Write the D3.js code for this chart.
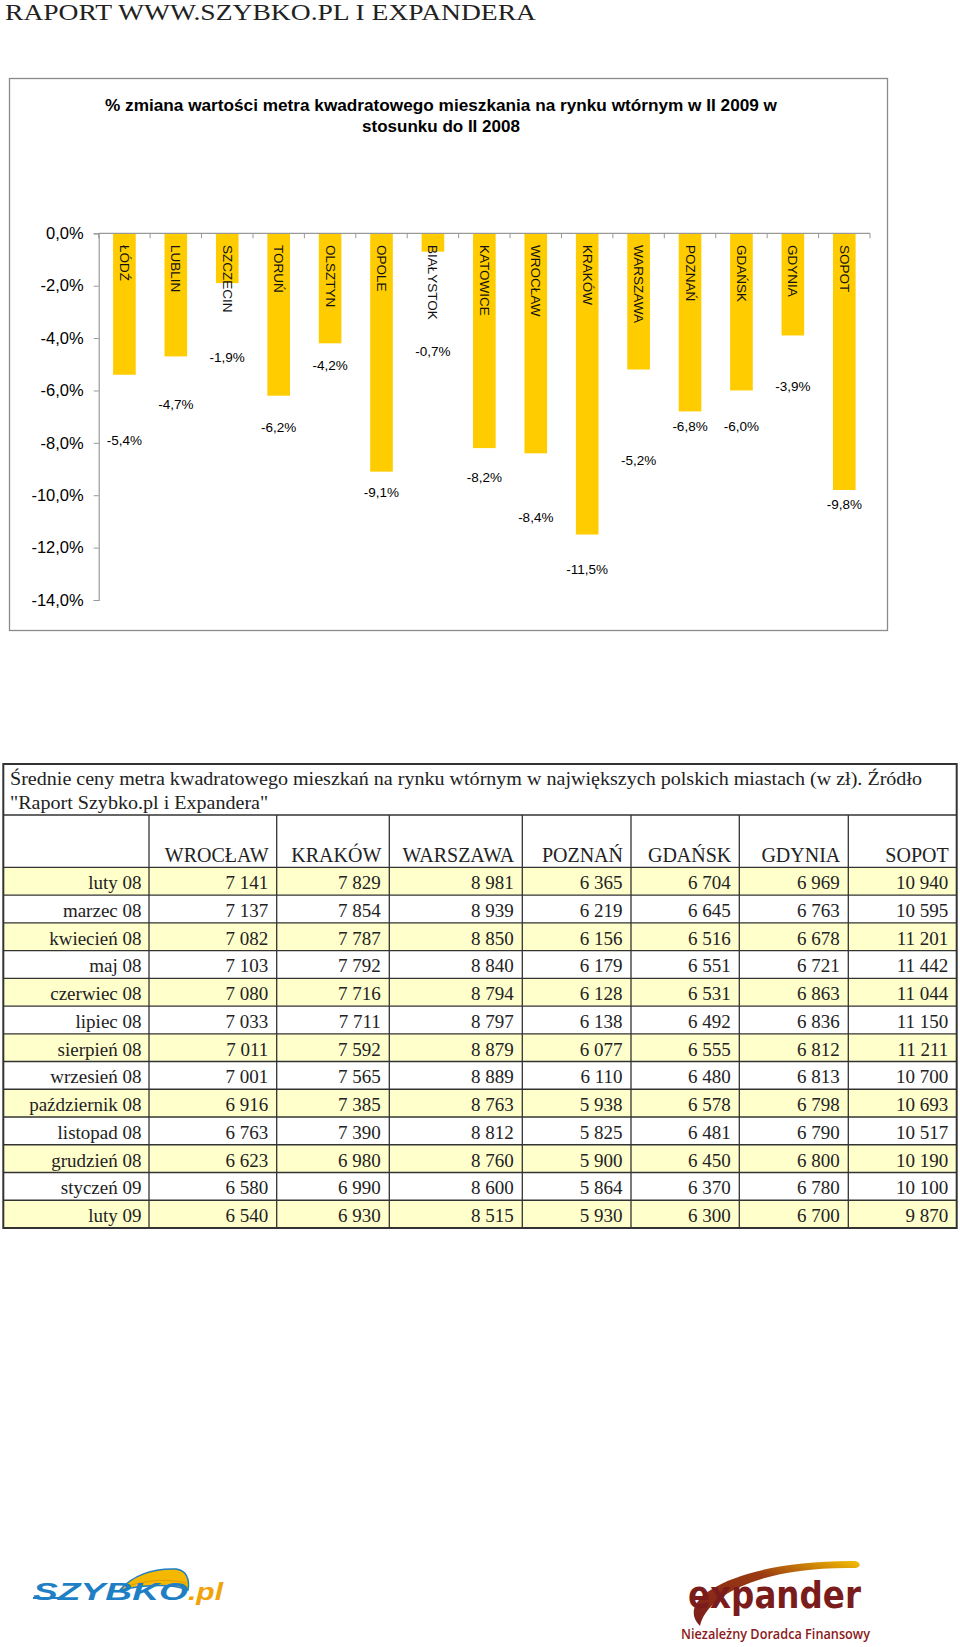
<!DOCTYPE html>
<html><head><meta charset="utf-8">
<script src="https://cdn.jsdelivr.net/npm/d3@7"></script>
<style>html,body{margin:0;padding:0;background:#fff;}svg{display:block;}</style>
</head><body>
<svg id="c" width="960" height="1647"></svg>
<script>
// ---------- chart data ----------
const cities = ["ŁÓDŹ","LUBLIN","SZCZECIN","TORUŃ","OLSZTYN","OPOLE","BIAŁYSTOK","KATOWICE","WROCŁAW","KRAKÓW","WARSZAWA","POZNAŃ","GDAŃSK","GDYNIA","SOPOT"];
const changes = [-5.4,-4.7,-1.9,-6.2,-4.2,-9.1,-0.7,-8.2,-8.4,-11.5,-5.2,-6.8,-6.0,-3.9,-9.8];
const yTicks = [0,-2,-4,-6,-8,-10,-12,-14];
// where each value label sits, in axis units (labels were placed by hand in the original)
const labelAnchors = [-7.92,-6.52,-4.75,-7.41,-5.04,-9.9,-4.52,-9.34,-10.86,-12.82,-8.68,-7.38,-7.38,-5.86,-10.34];

// ---------- table data ----------
const tableCities = ["WROCŁAW","KRAKÓW","WARSZAWA","POZNAŃ","GDAŃSK","GDYNIA","SOPOT"];
const months = ["luty 08","marzec 08","kwiecień 08","maj 08","czerwiec 08","lipiec 08","sierpień 08","wrzesień 08","październik 08","listopad 08","grudzień 08","styczeń 09","luty 09"];
const wroclaw  = [7141,7137,7082,7103,7080,7033,7011,7001,6916,6763,6623,6580,6540];
const krakow   = [7829,7854,7787,7792,7716,7711,7592,7565,7385,7390,6980,6990,6930];
const warszawa = [8981,8939,8850,8840,8794,8797,8879,8889,8763,8812,8760,8600,8515];
const poznan   = [6365,6219,6156,6179,6128,6138,6077,6110,5938,5825,5900,5864,5930];
const gdansk   = [6704,6645,6516,6551,6531,6492,6555,6480,6578,6481,6450,6370,6300];
const gdynia   = [6969,6763,6678,6721,6863,6836,6812,6813,6798,6790,6800,6780,6700];
const sopot    = [10940,10595,11201,11442,11044,11150,11211,10700,10693,10517,10190,10100,9870];
const tableSeries = [wroclaw,krakow,warszawa,poznan,gdansk,gdynia,sopot];

const chartTitle = ["% zmiana wartości metra kwadratowego mieszkania na rynku wtórnym w II 2009 w","stosunku do II 2008"];
const pageHeader = "RAPORT WWW.SZYBKO.PL I EXPANDERA";
const tableCaption = ["Średnie ceny metra kwadratowego mieszkań na rynku wtórnym w największych polskich miastach (w zł). Źródło","\"Raport Szybko.pl i Expandera\""];

// ---------- setup ----------
const svg = d3.select("#c");
const locale = d3.formatLocale({decimal:",", thousands:" ", grouping:[3], currency:["",""], minus:"-"});
const fmtPct = v => locale.format(".1f")(v) + "%";
const fmtNum = locale.format(",d");
const sans = "'Liberation Sans', Arial, sans-serif";
const serif = "'Liberation Serif', 'Times New Roman', serif";

svg.append("rect").attr("width",960).attr("height",1647).attr("fill","#fff");

// page header
svg.append("text").attr("x",5).attr("y",20)
  .attr("font-family",serif).attr("font-size",23.5).attr("fill","#222")
  .attr("textLength",531).attr("lengthAdjust","spacingAndGlyphs")
  .text(pageHeader);

// chart frame
svg.append("rect").attr("x",9.5).attr("y",78.5).attr("width",878).attr("height",552)
  .attr("fill","#fff").attr("stroke","#8a8a8a").attr("stroke-width",1.3);

// title
const tl = [{t:chartTitle[0],y:110.5,len:672},{t:chartTitle[1],y:131.5,len:null}];
tl.forEach(d=>{
  const t = svg.append("text").attr("x",441).attr("y",d.y).attr("text-anchor","middle")
    .attr("font-family",sans).attr("font-weight","bold").attr("font-size",17).attr("fill","#000")
    .text(d.t);
  if(d.len) t.attr("textLength",d.len).attr("lengthAdjust","spacingAndGlyphs");
});

// scales
const y = d3.scaleLinear().domain([0,-14]).range([233.3,600]);
const x = d3.scaleBand().domain(cities).range([98.7,870]).paddingInner(0.56).paddingOuter(0.28);

// y axis
const yAxis = d3.axisLeft(y).tickValues(yTicks).tickFormat(fmtPct).tickSize(5).tickPadding(10);
const ga = svg.append("g").attr("transform","translate(98.7,0)").call(yAxis);
ga.select(".domain").attr("stroke","#999").attr("stroke-width",1.2);
ga.selectAll(".tick line").attr("stroke","#999");
ga.selectAll(".tick text").attr("font-family",sans).attr("font-size",16.5).attr("fill","#000");

// bars
svg.append("g").selectAll("rect").data(changes).join("rect")
  .attr("x",(d,i)=>x(cities[i])).attr("width",x.bandwidth())
  .attr("y",y(0)).attr("height",d=>y(d)-y(0))
  .attr("fill","#FFCC00");

// x axis line + ticks at category boundaries
svg.append("line").attr("x1",x.range()[0]).attr("x2",x.range()[1]).attr("y1",y(0)).attr("y2",y(0))
  .attr("stroke","#999").attr("stroke-width",1.2);
const step = x.step();
svg.append("g").selectAll("line").data(d3.range(cities.length+1)).join("line")
  .attr("x1",i=>x.range()[0]+i*step).attr("x2",i=>x.range()[0]+i*step)
  .attr("y1",y(0)).attr("y2",y(0)+5).attr("stroke","#999");

// city names inside bars (rotated)
svg.append("g").selectAll("text").data(cities).join("text")
  .attr("transform",d=>`translate(${x(d)+x.bandwidth()/2},245) rotate(90)`)
  .attr("dominant-baseline","central")
  .attr("font-family",sans).attr("font-size",13.5).attr("fill","#111")
  .text(d=>d);

// value labels
svg.append("g").selectAll("text").data(changes).join("text")
  .attr("x",(d,i)=>x(cities[i])+x.bandwidth()/2)
  .attr("y",(d,i)=>y(labelAnchors[i]))
  .attr("text-anchor","middle").attr("dominant-baseline","central")
  .attr("font-family",sans).attr("font-size",13.5).attr("fill","#000")
  .text(d=>fmtPct(d));

// ---------- table ----------
const colEdges = [3.3,149,276.7,389.3,522.3,631,739.3,848.3,956.7];
const tTop = 764, capBottom = 815, headBottom = 867.3, tBottom = 1228;
const row = d3.scaleBand().domain(months).range([headBottom,tBottom]);
const tg = svg.append("g");

// row fills
tg.selectAll("rect.row").data(months).join("rect").attr("class","row")
  .attr("x",colEdges[0]).attr("width",colEdges[8]-colEdges[0])
  .attr("y",d=>row(d)).attr("height",row.bandwidth())
  .attr("fill",(d,i)=> i%2===0 ? "#FFFFCC" : "#FFFFFF");

// caption
const cap1 = tg.append("text").attr("x",10).attr("y",784.5)
  .attr("font-family",serif).attr("font-size",19).attr("fill","#222").text(tableCaption[0]);
const natural = cap1.node().getComputedTextLength();
const sx = 912/natural;
cap1.attr("textLength",912).attr("lengthAdjust","spacingAndGlyphs");
const cap2 = tg.append("text").attr("x",10).attr("y",808.5)
  .attr("font-family",serif).attr("font-size",19).attr("fill","#222").text(tableCaption[1]);
cap2.attr("textLength",cap2.node().getComputedTextLength()*sx).attr("lengthAdjust","spacingAndGlyphs");

// header
tg.selectAll("text.head").data(tableCities).join("text").attr("class","head")
  .attr("x",(d,i)=>colEdges[i+2]-8).attr("y",861.5).attr("text-anchor","end")
  .attr("font-family",serif).attr("font-size",20).attr("fill","#222").text(d=>d);

// month labels
tg.selectAll("text.mon").data(months).join("text").attr("class","mon")
  .attr("x",colEdges[1]-7.5).attr("y",d=>row(d)+row.bandwidth()-6)
  .attr("text-anchor","end").attr("font-family",serif).attr("font-size",19).attr("fill","#222")
  .text(d=>d);

// values
tableSeries.forEach((ser,ci)=>{
  tg.append("g").selectAll("text").data(ser).join("text")
    .attr("x",colEdges[ci+2]-8.5).attr("y",(d,ri)=>row(months[ri])+row.bandwidth()-6)
    .attr("text-anchor","end").attr("font-family",serif).attr("font-size",19).attr("fill","#222")
    .text(d=>fmtNum(d));
});

// grid lines
const hLines = [capBottom,headBottom].concat(months.slice(1).map(m=>row(m)));
tg.selectAll("line.h").data(hLines).join("line").attr("class","h")
  .attr("x1",colEdges[0]).attr("x2",colEdges[8]).attr("y1",d=>d).attr("y2",d=>d)
  .attr("stroke","#333").attr("stroke-width",1.3);
tg.selectAll("line.v").data(colEdges.slice(1,8)).join("line").attr("class","v")
  .attr("x1",d=>d).attr("x2",d=>d).attr("y1",capBottom).attr("y2",tBottom)
  .attr("stroke","#333").attr("stroke-width",1.3);
tg.append("rect").attr("x",colEdges[0]).attr("y",tTop).attr("width",colEdges[8]-colEdges[0]).attr("height",tBottom-tTop)
  .attr("fill","none").attr("stroke","#333").attr("stroke-width",2);

// ---------- logos ----------
const defs = svg.append("defs");
const gr = defs.append("linearGradient").attr("id","sw").attr("x1","0").attr("x2","1").attr("y1","1").attr("y2","0");
gr.append("stop").attr("offset","0").attr("stop-color","#7b1c1c");
gr.append("stop").attr("offset","0.6").attr("stop-color","#9a3b12");
gr.append("stop").attr("offset","1").attr("stop-color","#f5c000");

// szybko wing
svg.append("path").attr("d","M120,1590 C132,1576 152,1568 176,1569 C186,1570 190,1579 188,1590 C172,1584 150,1584 120,1590 Z")
  .attr("fill","#f5b800").attr("stroke","#1e7fc4").attr("stroke-width",1.5);
svg.append("path").attr("d","M128,1586 C150,1579 170,1579 186,1583").attr("fill","none").attr("stroke","#e89a00").attr("stroke-width",1);
svg.append("text").attr("x",33).attr("y",1600)
  .attr("font-family",sans).attr("font-weight","bold").attr("font-style","italic").attr("font-size",24)
  .attr("fill","#1e7fc4").attr("textLength",155).attr("lengthAdjust","spacingAndGlyphs").text("SZYBKO");
svg.append("text").attr("x",188).attr("y",1600)
  .attr("font-family",sans).attr("font-weight","bold").attr("font-style","italic").attr("font-size",24)
  .attr("fill","#f0a30a").attr("textLength",35).attr("lengthAdjust","spacingAndGlyphs").text(".pl");
svg.append("line").attr("x1",33).attr("x2",60).attr("y1",1598).attr("y2",1598).attr("stroke","#1e7fc4").attr("stroke-width",2);

// expander
svg.append("path").attr("d","M700,1626 C672,1598 740,1560 855,1561 C860,1562 862,1566 856,1568 C760,1566 706,1596 700,1626 Z")
  .attr("fill","url(#sw)");
svg.append("text").attr("x",688).attr("y",1608)
  .attr("font-family","'DejaVu Sans', sans-serif").attr("font-weight","bold").attr("font-size",38)
  .attr("fill","#7b1c1c").attr("textLength",173).attr("lengthAdjust","spacingAndGlyphs").text("expander");
svg.append("text").attr("x",681).attr("y",1639)
  .attr("font-family","'Open Sans', sans-serif").attr("font-weight",600).attr("font-size",14)
  .attr("fill","#8b1a1a").attr("textLength",189).attr("lengthAdjust","spacingAndGlyphs").text("Niezależny Doradca Finansowy");
</script>
</body></html>
